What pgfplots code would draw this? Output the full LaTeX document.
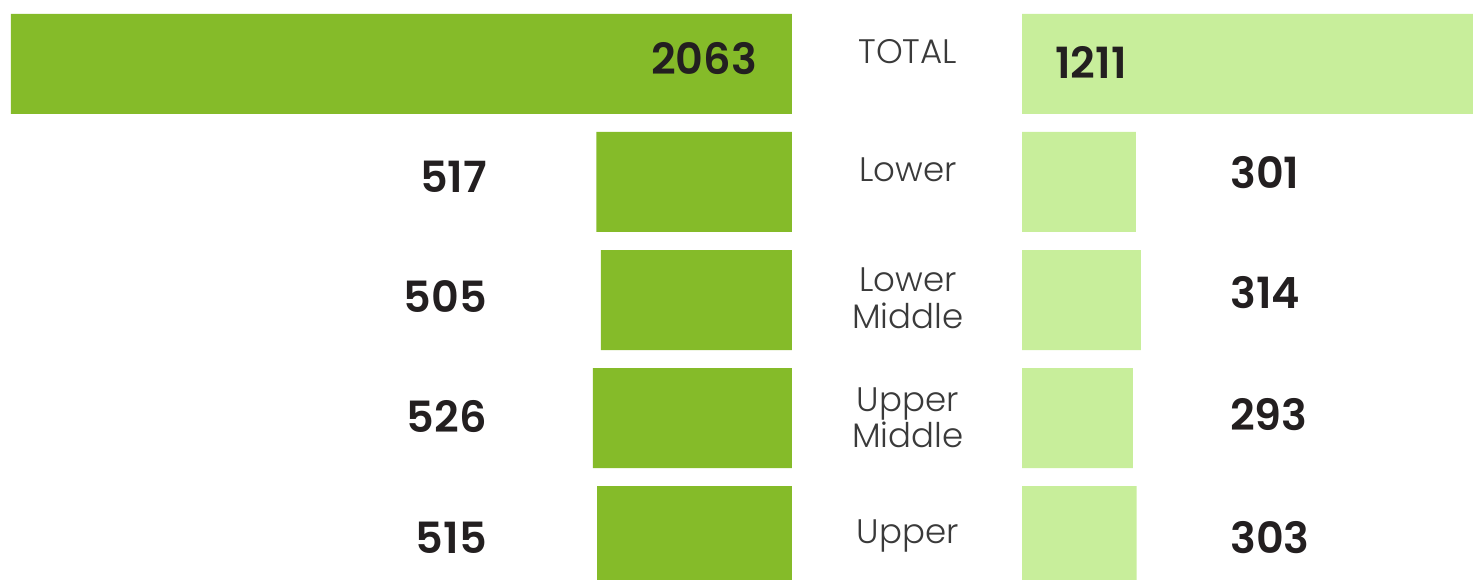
\documentclass[border=0pt]{standalone}
\usepackage{fontspec}
\setmainfont{Poppins}
\newfontfamily\lightfont{Poppins Light}
\newfontfamily\semifont{Poppins SemiBold}
\usepackage{pgfplots}
\pgfplotsset{compat=1.18}
\definecolor{darkgreen}{HTML}{85BB29}
\definecolor{lightgreen}{HTML}{C8EE9B}
\definecolor{numtext}{HTML}{231F20}
\definecolor{cattext}{HTML}{3A3A3A}
\tikzset{
  num/.style={inner sep=0pt, text=numtext, font=\fontsize{21.5pt}{21.5pt}\selectfont\semifont},
  cat/.style={inner sep=0pt, anchor=base, text=cattext, font=\fontsize{17pt}{17pt}\selectfont\lightfont},
}
\begin{document}
\begin{tikzpicture}
\path[use as bounding box] (0,0) rectangle (736.5pt,289.5pt);
% left axis
\begin{axis}[
  at={(0pt,289.5pt)}, anchor=north west,
  scale only axis, width=396pt, height=289.5pt,
  xmin=0, xmax=2092, x dir=reverse,
  ymin=-0.542, ymax=4.364, y dir=reverse,
  hide axis, clip mode=individual,
]
\addplot[xbar, bar width=50pt, fill=darkgreen, draw=none]
  coordinates {(2063,0) (517,1) (505,2) (526,3) (515,4)};
\node[num, anchor=base east] at (axis cs:92,0.093) {2063};
\node[num, anchor=base east] at (axis cs:805,1.093) {517};
\node[num, anchor=base east] at (axis cs:805,2.102) {505};
\node[num, anchor=base east] at (axis cs:805,3.119) {526};
\node[num, anchor=base east] at (axis cs:805,4.144) {515};
% category labels (centre column)
\node[cat] at (axis cs:-306,-0.008) {TOTAL};
\node[cat] at (axis cs:-306,1.0) {Lower};
\node[cat] at (axis cs:-306,1.924) {Lower};
\node[cat] at (axis cs:-306,2.245) {Middle};
\node[cat] at (axis cs:-306,2.941) {Upper};
\node[cat] at (axis cs:-306,3.246) {Middle};
\node[cat] at (axis cs:-306,4.059) {Upper};
\end{axis}
% right axis
\begin{axis}[
  at={(511pt,289.5pt)}, anchor=north west,
  scale only axis, width=225.5pt, height=289.5pt,
  xmin=0, xmax=1191,
  ymin=-0.542, ymax=4.364, y dir=reverse,
  hide axis, clip mode=individual,
]
\addplot[xbar, bar width=50pt, fill=lightgreen, draw=none]
  coordinates {(1211,0) (301,1) (314,2) (293,3) (303,4)};
\node[num, anchor=base west] at (axis cs:87,0.119) {1211};
\node[num, anchor=base west] at (axis cs:549,1.051) {301};
\node[num, anchor=base west] at (axis cs:549,2.068) {314};
\node[num, anchor=base west] at (axis cs:549,3.102) {293};
\node[num, anchor=base west] at (axis cs:549,4.144) {303};
\end{axis}
\end{tikzpicture}
\end{document}
